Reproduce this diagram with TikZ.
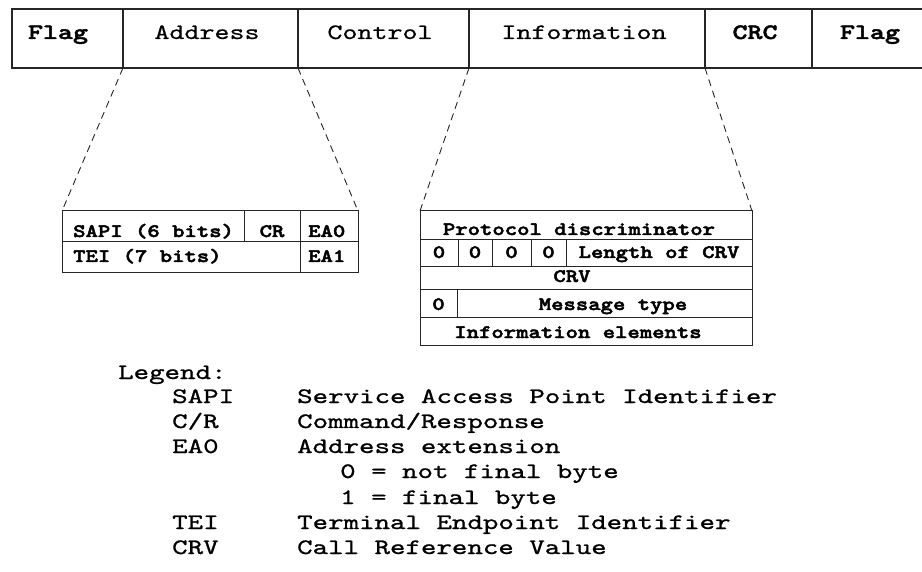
\documentclass[tikz,border=0pt]{standalone}
\usepackage{fontspec}
\setmainfont{Liberation Mono}
\newfontfamily\topf[Extension=.otf, UprightFont=lmmono10-regular, BoldFont=lmmonolt10-bold, UprightFeatures={FakeBold=0.6}, BoldFeatures={FakeBold=2}, FakeStretch=1.3]{lmmono10-regular}
\newfontfamily\tabf[Extension=.otf, UprightFont=lmmonolt10-bold, UprightFeatures={FakeBold=2.5}, FakeStretch=1.24]{lmmonolt10-bold}
\newfontfamily\legf[Extension=.otf, UprightFont=lmmono10-regular, UprightFeatures={FakeBold=1}, FakeStretch=1.34]{lmmono10-regular}
\usetikzlibrary{fit}
\begin{document}
\begin{tikzpicture}[x=1pt,y=-1pt,
  topcell/.style={draw=black!85, line width=1.4pt, inner sep=0pt, outer sep=0pt},
  tabcell/.style={draw=black!85, line width=1pt, inner sep=0pt, outer sep=0pt},
  toptxt/.style={anchor=base, inner sep=0pt, font=\topf\fontsize{22}{26}\selectfont},
  topbold/.style={toptxt, font=\topf\bfseries\fontsize{22}{26}\selectfont},
  tabtxt/.style={anchor=base, inner sep=0pt, font=\tabf\fontsize{19}{22}\selectfont},
  tabtxtw/.style={tabtxt, anchor=base west},
  legtxt/.style={anchor=base west, inner sep=0pt, font=\legf\fontsize{22}{25}\selectfont},
  zoomline/.style={draw=black!85, line width=0.9pt, dash pattern=on 7pt off 5pt}]
\useasboundingbox (0,0) rectangle (922,572);
\fill[white] (0,0) rectangle (922,572);

% top frame
\node[topcell, fit={(12,9) (123,68)}] (flag1) {};
\node[topcell, fit={(123,9) (298,68)}] (addr) {};
\node[topcell, fit={(298,9) (469,68)}] (ctrl) {};
\node[topcell, fit={(469,9) (705,68)}] (info) {};
\node[topcell, fit={(705,9) (812,68)}] (crc) {};
\node[topcell, fit={(812,9) (924,68)}] (flag2) {};

\node[topbold] (tflag1) at (58,39) {Flag};
\node[toptxt] (taddr) at (207,39) {Address};
\node[toptxt] (tctrl) at (380,39) {Control};
\node[toptxt] (tinfo) at (584,39) {Information};
\node[topbold] (tcrc) at (755,39) {CRC};
\node[topbold] (tflag2) at (870,39) {Flag};

% address detail
\node[tabcell, fit={(62,211) (244,242)}] (sapi) {};
\node[tabcell, fit={(244,211) (300,242)}] (cr) {};
\node[tabcell, fit={(300,211) (358,242)}] (eazero) {};
\node[tabcell, fit={(62,242) (300,273)}] (tei) {};
\node[tabcell, fit={(300,242) (358,273)}] (eaone) {};

\node[tabtxtw] (tsapi) at (73,237) {SAPI (6 bits)};
\node[tabtxt] (tcr) at (272,237) {CR};
\node[tabtxtw] (teazero) at (308,237) {EA0};
\node[tabtxtw] (ttei) at (73,262) {TEI (7 bits)};
\node[tabtxtw] (teaone) at (308,262) {EA1};

% information detail
\node[tabcell, fit={(420,211) (752,240)}] (pd) {};
\node[tabcell, fit={(420,240) (458,267)}] (za) {};
\node[tabcell, fit={(458,240) (492,267)}] (zb) {};
\node[tabcell, fit={(492,240) (531,267)}] (zc) {};
\node[tabcell, fit={(531,240) (566,267)}] (zd) {};
\node[tabcell, fit={(566,240) (752,267)}] (len) {};
\node[tabcell, fit={(420,267) (752,290)}] (crv) {};
\node[tabcell, fit={(420,290) (457,318)}] (ze) {};
\node[tabcell, fit={(457,290) (752,318)}] (msg) {};
\node[tabcell, fit={(420,318) (752,346)}] (ie) {};

\node[tabtxt] (tpd) at (579,235) {Protocol discriminator};
\node[tabtxt] (tza) at (439,258) {0};
\node[tabtxt] (tzb) at (475,258) {0};
\node[tabtxt] (tzc) at (511.5,258) {0};
\node[tabtxt] (tzd) at (548.5,258) {0};
\node[tabtxt] (tlen) at (659,258) {Length of CRV};
\node[tabtxt] (tcrv) at (572,282) {CRV};
\node[tabtxt] (tze) at (438.5,310) {0};
\node[tabtxt] (tmsg) at (613,310) {Message type};
\node[tabtxt] (tie) at (578,338) {Information elements};

% zoom connectors
\draw[zoomline] (addr.south west) -- (sapi.north west);
\draw[zoomline] (addr.south east) -- (eazero.north east);
\draw[zoomline] (info.south west) -- (pd.north west);
\draw[zoomline] (info.south east) -- (pd.north east);

% legend
\node[legtxt] (leg) at (118,379) {Legend:};
\node[legtxt] (ksapi) at (172,403) {SAPI};
\node[legtxt] (dsapi) at (297,403) {Service Access Point Identifier};
\node[legtxt] (kcr) at (172,428) {C/R};
\node[legtxt] (dcr) at (297,428) {Command/Response};
\node[legtxt] (kea) at (172,453) {EA0};
\node[legtxt] (dea) at (297,453) {Address extension};
\node[legtxt] (dzero) at (340,478) {0 = not final byte};
\node[legtxt] (done) at (340,504) {1 = final byte};
\node[legtxt] (ktei) at (172,529) {TEI};
\node[legtxt] (dtei) at (297,529) {Terminal Endpoint Identifier};
\node[legtxt] (kcrv) at (172,554) {CRV};
\node[legtxt] (dcrv) at (297,554) {Call Reference Value};
\end{tikzpicture}
\end{document}
